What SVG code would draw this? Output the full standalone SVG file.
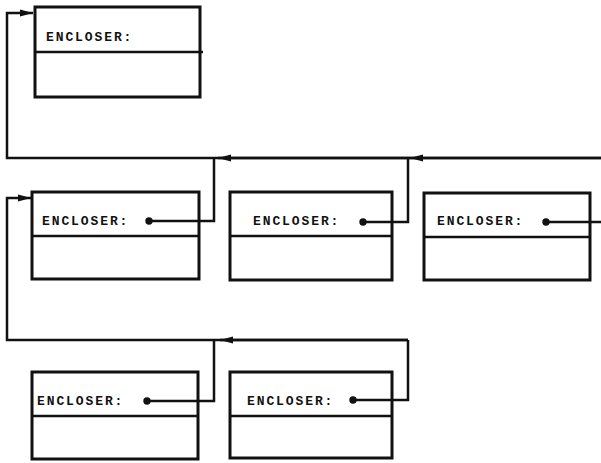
<svg xmlns="http://www.w3.org/2000/svg" width="601" height="463" viewBox="0 0 601 463">
<style>
.box{fill:none;stroke:#111;stroke-width:3}
.div{stroke:#111;stroke-width:2.5}
.lbl{font-family:"Liberation Mono",monospace;font-size:13px;font-weight:bold;letter-spacing:1.9px;fill:#111}
.ln{fill:none;stroke:#111;stroke-width:2.5}
.dot{fill:#111}
</style>
<defs>
<marker id="ah" markerWidth="14" markerHeight="8" refX="13" refY="4" orient="auto" markerUnits="userSpaceOnUse">
<path d="M0,0.6 L13,4 L0,7.4 Z" fill="#111"/>
</marker>
</defs>
<rect width="601" height="463" fill="#fff"/>
<g id="connectors">
<polyline class="ln" points="601,158 7,158 7,13 33,13" marker-end="url(#ah)"/>
<line class="ln" x1="601" y1="158" x2="410" y2="158" marker-end="url(#ah)"/>
<line class="ln" x1="410" y1="158" x2="218" y2="158" marker-end="url(#ah)"/>
<polyline class="ln" points="149,221 214,221 214,158"/>
<polyline class="ln" points="363,222 408,222 408,158"/>
<line class="ln" x1="546" y1="222" x2="601" y2="222"/>
<polyline class="ln" points="408,340 7,340 7,198 31,198" marker-end="url(#ah)"/>
<line class="ln" x1="408" y1="340" x2="220" y2="340" marker-end="url(#ah)"/>
<polyline class="ln" points="147,401 214,401 214,340"/>
<polyline class="ln" points="353,400 408,400 408,340"/>
</g>
<g id="node-top">
<rect class="box" x="35" y="7" width="165" height="90"/>
<line class="div" x1="35" y1="52" x2="203" y2="52"/>
<text class="lbl" x="46" y="41">ENCLOSER:</text>
</g>
<g id="node-m1">
<rect class="box" x="32" y="192" width="167" height="87"/>
<line class="div" x1="32" y1="236" x2="199" y2="236"/>
<text class="lbl" x="42" y="225">ENCLOSER:</text>
<circle class="dot" cx="149" cy="221" r="3.7"/>
</g>
<g id="node-m2">
<rect class="box" x="230" y="192" width="162" height="88"/>
<line class="div" x1="230" y1="236" x2="392" y2="236"/>
<text class="lbl" x="253" y="225">ENCLOSER:</text>
<circle class="dot" cx="363" cy="222" r="3.7"/>
</g>
<g id="node-m3">
<rect class="box" x="424" y="193" width="166" height="87"/>
<line class="div" x1="424" y1="237" x2="590" y2="237"/>
<text class="lbl" x="437" y="225">ENCLOSER:</text>
<circle class="dot" cx="546" cy="222" r="3.7"/>
</g>
<g id="node-b1">
<rect class="box" x="32" y="372" width="166" height="87"/>
<line class="div" x1="32" y1="416" x2="198" y2="416"/>
<text class="lbl" x="37" y="405">ENCLOSER:</text>
<circle class="dot" cx="147" cy="401" r="3.7"/>
</g>
<g id="node-b2">
<rect class="box" x="230" y="372" width="162" height="86"/>
<line class="div" x1="230" y1="416" x2="392" y2="416"/>
<text class="lbl" x="247" y="405">ENCLOSER:</text>
<circle class="dot" cx="353" cy="400" r="3.7"/>
</g>
</svg>
